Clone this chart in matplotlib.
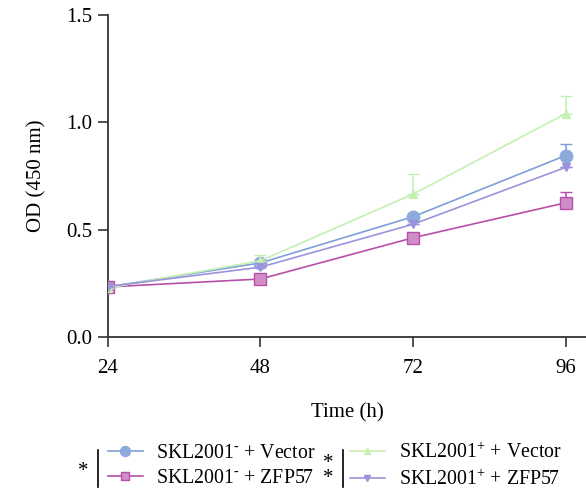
import matplotlib
matplotlib.use("Agg")
import matplotlib.pyplot as plt
from matplotlib.lines import Line2D

plt.rcParams['font.family'] = ['Liberation Serif', 'DejaVu Serif']
plt.rcParams['mathtext.fontset'] = 'custom'
plt.rcParams['mathtext.rm'] = 'Liberation Serif'

time_h = [24, 48, 72, 96]
vec_minus = [0.233, 0.345, 0.56, 0.845]
vec_minus_err = [0.0, 0.01, 0.01, 0.055]
zfp_minus = [0.233, 0.27, 0.462, 0.625]
zfp_minus_err = [0.0, 0.0, 0.0, 0.05]
vec_plus = [0.228, 0.355, 0.665, 1.04]
vec_plus_err = [0.0, 0.025, 0.095, 0.08]
zfp_plus = [0.235, 0.325, 0.525, 0.79]
zfp_plus_err = [0.0, 0.0, 0.0, 0.0]

labels = [r'SKL2001$^{\text{-}}$ + Vector', r'SKL2001$^{\text{-}}$ + ZFP57',
          r'SKL2001$^{+}$ + Vector', r'SKL2001$^{+}$ + ZFP57']

fig = plt.figure(figsize=(5.86, 4.97), dpi=100)
ax = fig.add_axes([0.184, 0.322, 0.816, 0.648])

series = [
    (vec_minus, vec_minus_err, 'o', '#8eaadc', '#7f9fd8', '#8eaadc', 9),
    (zfp_minus, zfp_minus_err, 's', '#d08ec8', '#b84fa8', '#b84fa8', 8),
    (vec_plus, vec_plus_err, '^', '#c6f0b2', '#c6f0b2', '#c6f0b2', 6),
    (zfp_plus, zfp_plus_err, 'v', '#9a94dc', '#9a94dc', '#9a94dc', 6),
]
handles = []
order = [2, 3, 1, 0]
for idx in order:
    vals, errs, m, fc, lc, ec, ms = series[idx]
    ax.errorbar(time_h, vals, yerr=[[0]*4, errs], color=lc, ecolor=lc,
                elinewidth=1.2, capsize=4, capthick=1.2, lw=1.2,
                marker=m, ms=ms, mfc=fc, mec=ec, mew=1, zorder=3 + idx)
for idx in range(4):
    vals, errs, m, fc, lc, ec, ms = series[idx]
    handles.append(Line2D([], [], color=lc, lw=1.2, marker=m, ms=ms*0.8,
                          mfc=fc, mec=ec))

ax.set_xlim(24, 99.2)
ax.set_ylim(0, 1.5)
ax.set_xticks(time_h)
ax.set_yticks([0.0, 0.5, 1.0, 1.5])
ax.set_yticklabels(['0.0', '0.5', '1.0', '1.5'])
for s in ['top', 'right']:
    ax.spines[s].set_visible(False)
for s in ['left', 'bottom']:
    ax.spines[s].set_color('#333333')
    ax.spines[s].set_linewidth(1.3)
ax.tick_params(direction='out', length=7, width=1.2, colors='#333333',
               labelsize=15, labelcolor='black')
ax.tick_params(axis='x', pad=9)
ax.tick_params(axis='y', pad=4)
ax.set_xlabel('Time (h)', fontsize=15, labelpad=18)
ax.set_ylabel('OD (450 nm)', fontsize=15, labelpad=14)

common = dict(loc='center left', frameon=False, fontsize=14.3,
              handlelength=1.75, handletextpad=0.7, labelspacing=0.3,
              borderaxespad=0, borderpad=0)
fig.legend(handles[:2], labels[:2], bbox_to_anchor=(0.184, 0.062), **common)
fig.legend(handles[2:], labels[2:], bbox_to_anchor=(0.597, 0.062), **common)

fig.text(0.142, 0.052, '*', fontsize=15, ha='center', va='center')
fig.add_artist(Line2D([0.167, 0.167], [0.02, 0.095], color='black', lw=1.2,
                      transform=fig.transFigure))
fig.text(0.560, 0.052, '*\n*', fontsize=15, ha='center', va='center',
         linespacing=0.75)
fig.add_artist(Line2D([0.585, 0.585], [0.02, 0.095], color='black', lw=1.2,
                      transform=fig.transFigure))

fig.savefig('out.png', dpi=100)
